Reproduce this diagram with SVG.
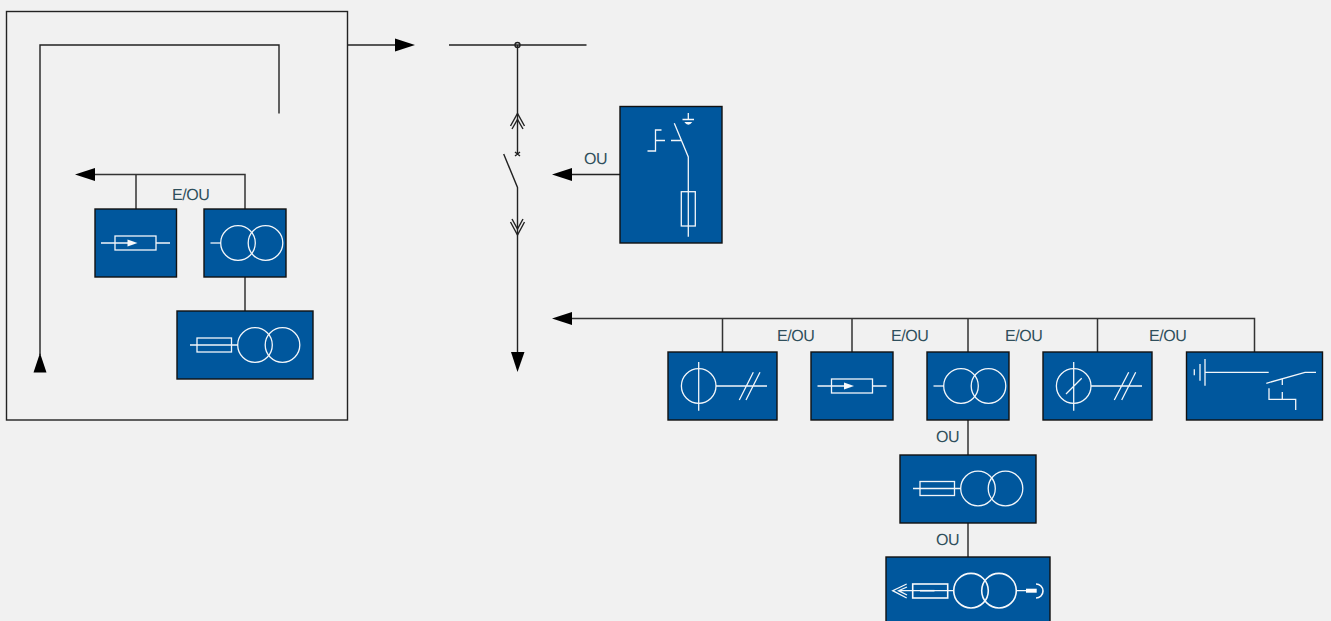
<svg xmlns="http://www.w3.org/2000/svg" width="1331" height="621" viewBox="0 0 1331 621">
<style>
.b{fill:#00579d;stroke:#111;stroke-width:1.4}
.w{fill:none;stroke:#f2f6fa;stroke-width:1.3}
.t{fill:none;stroke:#f7f9fb;stroke-width:1.6}
.k{fill:none;stroke:#222;stroke-width:1.4}
.g{fill:none;stroke:#333;stroke-width:1.5}
.a{fill:#000;stroke:none}
text{font-family:"Liberation Sans",Arial,sans-serif;font-size:16px;letter-spacing:-0.4px;text-rendering:geometricPrecision;fill:#2f4f5c}
</style>
<defs>
<g id="xf"><circle cx="0" cy="0" r="17.300" class="w"/><circle cx="27.500" cy="0" r="17.300" class="w"/></g>
<g id="arr"><rect x="0" y="-7" width="41" height="14" class="w"/><path d="M-14 0H13M41 0H55" class="w"/><path d="M12.500 -3.400L22.500 0L12.500 3.400Z" fill="#f7f9fb"/></g>
<g id="fuse"><rect x="0" y="-7" width="34.500" height="14" class="w"/><path d="M-7 0H41" class="w"/></g>
</defs>
<rect width="1331" height="621" fill="#f1f1f1"/>
<g id="connectors">
<rect x="6.500" y="11.500" width="341" height="408.500" class="k"/>
<path d="M279 113.500V45H40V355" class="k"/>
<path class="a" d="M33.500 372.500L40 353L46.500 372.500Z"/>
<path d="M348 45H397" class="k"/>
<path class="a" d="M415 45L395 38.500V51.500Z"/>
<path d="M449 45H586.500M517.500 45V154" class="k"/>
<circle cx="517.500" cy="45" r="2.500" class="k"/>
<path d="M510.500 126L517.500 113.500L524.500 126M512 129L517.500 119.500L523 129" class="k"/>
<path d="M515 152L520 156M520 152L515 156" class="k"/>
<path d="M503.700 154L517.500 187.500V352" class="k"/>
<path d="M510.500 222L517.500 235L524.500 222M512 219L517.500 229L523 219" class="k"/>
<path class="a" d="M511 352H524.500L517.500 372Z"/>
<path d="M620 174.500H570" class="k"/>
<path class="a" d="M552 174.500L572 168V181Z"/>
<path d="M245 209V174.500H92M136 174.500V209M245 277V311" class="g"/>
<path class="a" d="M75 174.500L95 168V181Z"/>
<path d="M1254.500 352V318.500H570M722.500 318.500V352M852 318.500V352M968 318.500V352M1097.500 318.500V352M968 420V455M968 523V557" class="g"/>
<path class="a" d="M552 318.500L572 312V325Z"/>
</g>
<g id="labels">
<text x="172" y="200">E/OU</text>
<text x="584" y="164">OU</text>
<text x="777" y="341">E/OU</text>
<text x="891" y="341">E/OU</text>
<text x="1005" y="341">E/OU</text>
<text x="1149" y="341">E/OU</text>
<text x="936" y="442">OU</text>
<text x="936" y="545">OU</text>
</g>
<g id="node-earth-fuse">
<rect x="620" y="106.500" width="102" height="136.500" class="b"/>
<path d="M647.500 151H655.500V130H661.500M655.500 140.500H665M671 140.500H681M674.300 123.300L688.300 157V236.700M688.300 113V119.500M682.500 119.500H694" class="w"/>
<path d="M684.300 122H692.300Q688.300 127.500 684.300 122Z" fill="#f7f9fb"/>
<rect x="681.300" y="191.700" width="14" height="34.300" class="w"/>
</g>
<g id="node-left-arrow">
<rect x="95" y="209" width="81.500" height="68" class="b"/>
<use href="#arr" transform="translate(115 243)"/>
</g>
<g id="node-left-xf">
<rect x="204" y="209" width="82" height="68" class="b"/>
<path d="M210.500 243H221" class="w"/><use href="#xf" transform="translate(238 243)"/>
</g>
<g id="node-left-fuse-xf">
<rect x="177" y="311" width="136" height="68" class="b"/>
<use href="#fuse" transform="translate(197 345)"/><use href="#xf" transform="translate(255 345)"/>
</g>
<g id="node-cap">
<rect x="668" y="352" width="109" height="68" class="b"/>
<circle cx="698.700" cy="386" r="17.300" class="w"/>
<path d="M698.700 362V410.700M716 386H767M739.300 400L753.300 372.300M746 400L760 372.300" class="w"/>
</g>
<g id="node-arrow">
<rect x="811" y="352" width="82" height="68" class="b"/>
<use href="#arr" transform="translate(831.500 386)"/>
</g>
<g id="node-xf">
<rect x="927" y="352" width="82" height="68" class="b"/>
<path d="M933.500 386H944" class="w"/><use href="#xf" transform="translate(961 386)"/>
</g>
<g id="node-slash">
<rect x="1043" y="352" width="109" height="68" class="b"/>
<circle cx="1073.700" cy="386" r="17.300" class="w"/>
<path d="M1073.700 362V410.700M1066 394L1081.700 378.300M1091 386H1142M1114.300 400L1128.700 372.300M1121.700 400L1135.700 372.300" class="w"/>
</g>
<g id="node-switch">
<rect x="1186.500" y="352" width="136" height="68" class="b"/>
<path d="M1205 359V385.700M1205 372.300H1268.700M1200 364V380.700M1194.300 369.300V375.300M1266.300 383.300L1305 372.300H1316M1282.300 378.500V385M1282.300 392V399.300M1269 388.300V399.300H1295.700V410" class="w"/>
</g>
<g id="node-fuse-xf">
<rect x="900" y="455" width="136" height="68" class="b"/>
<use href="#fuse" transform="translate(920 488.500)"/><use href="#xf" transform="translate(978 488.500)"/>
</g>
<g id="node-full">
<rect x="886" y="557" width="164" height="68" class="b"/>
<path d="M906.700 584L892.700 590.700L906.700 598M907 587L898.500 590.700L907 595M898.500 590.700H954M1016.700 590.700H1026" class="w"/>
<path d="M920 590.700H934.500" class="t"/>
<path d="M1036 584A7 7 0 0 1 1036 598" class="t"/>
<rect x="912.700" y="584" width="35" height="14" class="t"/>
<rect x="1026" y="588.700" width="10.700" height="4" fill="#fff"/>
<g transform="translate(971 590.700)"><circle cx="0" cy="0" r="17.300" class="t"/><circle cx="28" cy="0" r="17.300" class="t"/></g>
</g>
</svg>
